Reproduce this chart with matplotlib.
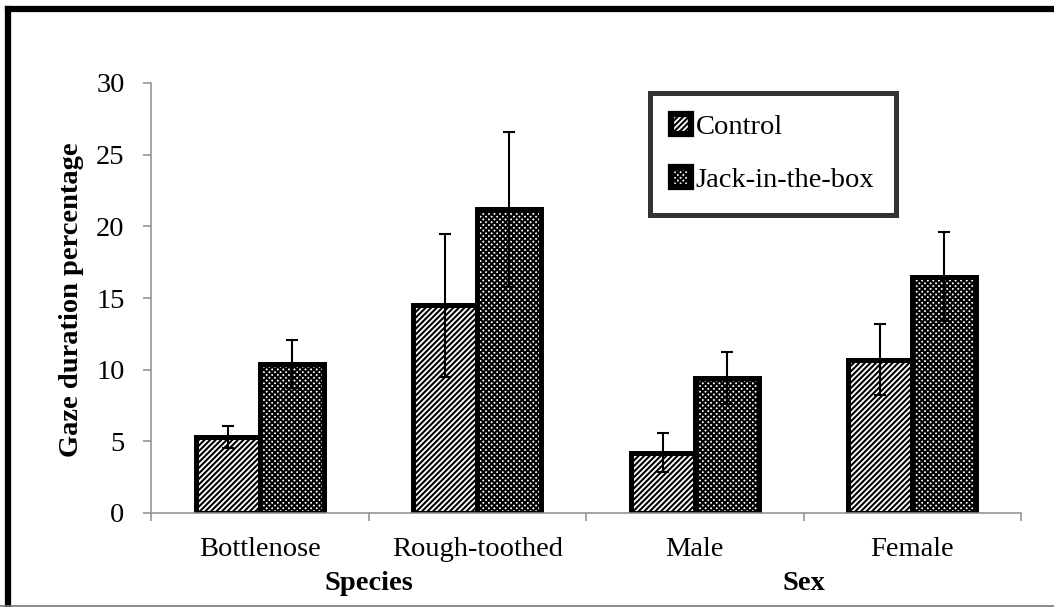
import numpy as np
import matplotlib
matplotlib.use('Agg')
import matplotlib.pyplot as plt
from matplotlib.lines import Line2D

plt.rcParams['font.family'] = ['Liberation Serif', 'DejaVu Serif']
plt.rcParams['hatch.linewidth'] = 1.5

# Data
categories = ['Bottlenose', 'Rough-toothed', 'Male', 'Female']
groups = ['Species', 'Sex']
control = [5.3, 14.5, 4.2, 10.7]
control_err = [0.75, 5.0, 1.35, 2.5]
jack = [10.4, 21.2, 9.4, 16.5]
jack_err = [1.65, 5.4, 1.8, 3.1]

fs = 20.5
gray = '#8c8c8c'

fig = plt.figure(figsize=(10.54, 6.07), dpi=100)
ax = fig.add_axes([151 / 1054, 1 - 513 / 607, 870 / 1054, 430 / 607])

x = np.arange(len(categories))
w = 0.295

ax.bar(x - w / 2, control, w, color='white', edgecolor='black', linewidth=3.6,
       hatch='//////', label='Control', zorder=2)
ax.bar(x + w / 2, jack, w, color='white', edgecolor='black', linewidth=3.6,
       hatch='xxxxxx', label='Jack-in-the-box', zorder=2)

ax.errorbar(x - w / 2, control, yerr=control_err, fmt='none', ecolor='black',
            elinewidth=1.5, capsize=4.3, capthick=1.5, zorder=3)
ax.errorbar(x + w / 2, jack, yerr=jack_err, fmt='none', ecolor='black',
            elinewidth=1.5, capsize=4.3, capthick=1.5, zorder=3)

ax.set_xlim(-0.5, len(categories) - 0.5)
ax.set_ylim(0, 30)
ax.set_yticks(np.arange(0, 31, 5))

# category labels at centres, tick marks at boundaries
ax.set_xticks(x)
ax.set_xticklabels(categories, fontsize=fs)
ax.set_xticks(np.arange(-0.5, len(categories), 1), minor=True)
ax.tick_params(axis='x', which='major', length=0, pad=17)
ax.tick_params(axis='x', which='minor', length=6, width=1.1, color=gray, direction='out')
ax.tick_params(axis='y', length=6, width=1.1, color=gray, labelsize=fs, pad=13)

for side in ['top', 'right']:
    ax.spines[side].set_visible(False)
for side in ['left', 'bottom']:
    ax.spines[side].set_color(gray)
    ax.spines[side].set_linewidth(1.1)

# group labels
for i, g in enumerate(groups):
    ax.text(2 * i + 0.5, -0.163, g, transform=ax.get_xaxis_transform(),
            ha='center', va='center', fontsize=fs, fontweight='bold')

fig.text(72 / 1054, 1 - 300 / 607, 'Gaze duration percentage', rotation=90,
         ha='center', va='center', fontsize=fs, fontweight='bold')

leg = ax.legend(loc='upper left', bbox_to_anchor=(650 / 1054, 1 - 93 / 607),
                bbox_transform=fig.transFigure, fontsize=fs, frameon=True,
                fancybox=False, borderaxespad=0, borderpad=0.75,
                labelspacing=0.95, handlelength=0.7, handleheight=0.7,
                handletextpad=0.15)
leg.get_frame().set_edgecolor('black')
leg.get_frame().set_linewidth(3.6)
for h in leg.legend_handles:
    h.set_linewidth(4.5)

# figure border (left and top thick, bottom thin gray)
fig.add_artist(Line2D([8 / 1054, 8 / 1054], [0, 1 - 9 / 607], color='black',
                      linewidth=4.5, transform=fig.transFigure, solid_capstyle='projecting'))
fig.add_artist(Line2D([8 / 1054, 1], [1 - 9 / 607, 1 - 9 / 607], color='black',
                      linewidth=4.5, transform=fig.transFigure, solid_capstyle='projecting'))
fig.add_artist(Line2D([0, 1], [1 / 607, 1 / 607], color='#777777',
                      linewidth=1.2, transform=fig.transFigure))

fig.savefig('out.png', dpi=100)
